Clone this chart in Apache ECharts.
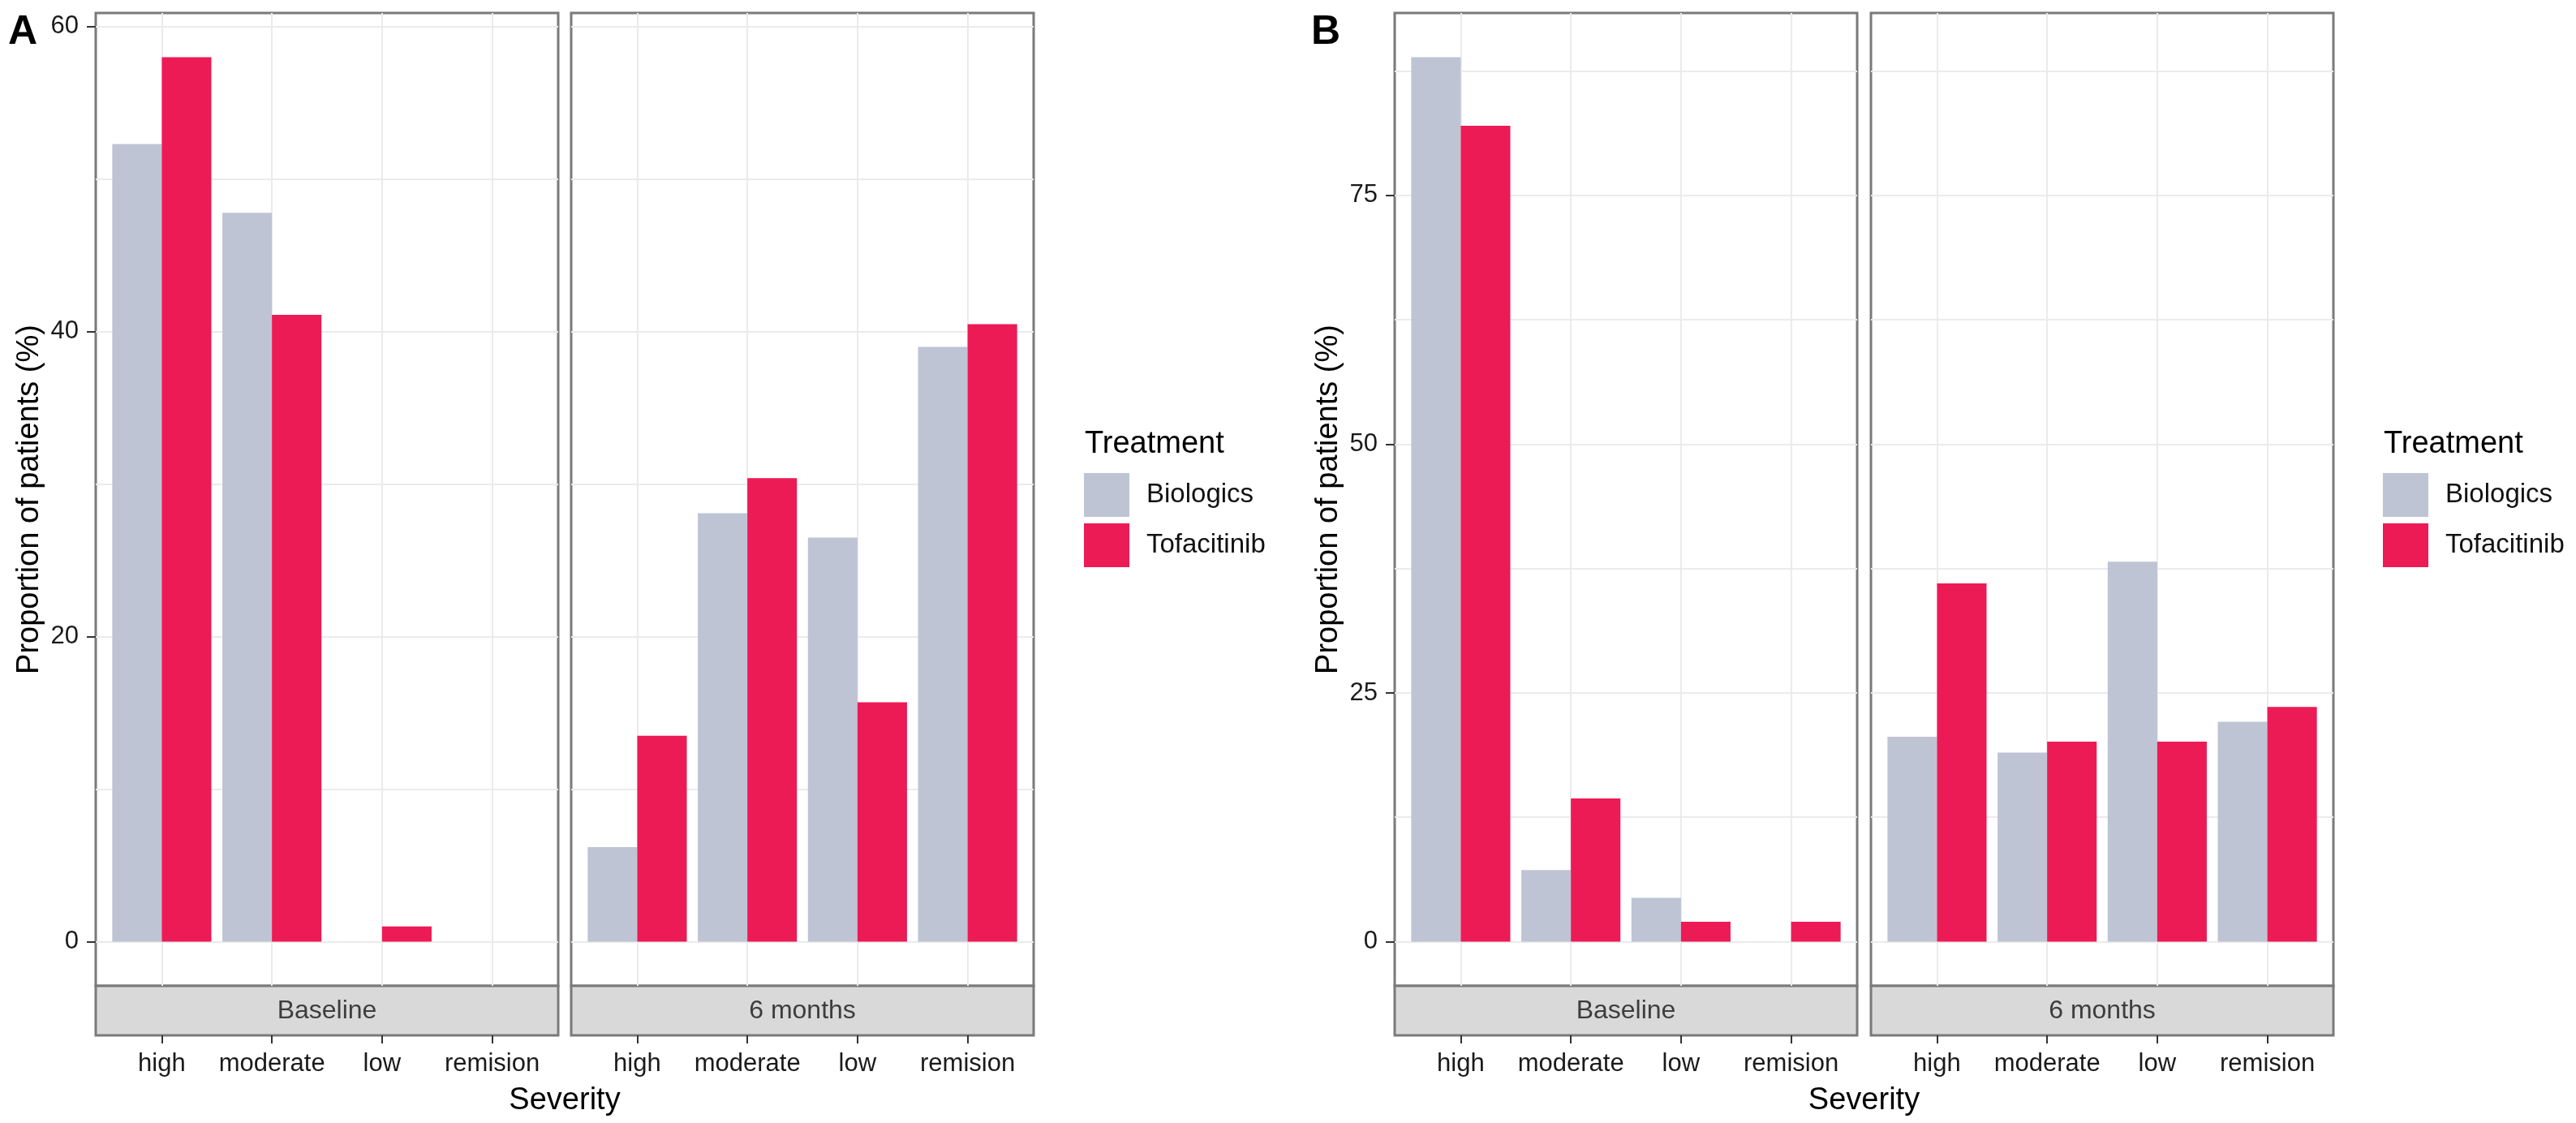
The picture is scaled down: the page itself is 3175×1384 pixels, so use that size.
<!DOCTYPE html>
<html><head><meta charset="utf-8">
<script src="https://cdn.jsdelivr.net/npm/echarts@6/dist/echarts.min.js"></script>
<style>html,body{margin:0;padding:0;background:#fff;}#c{width:3175px;height:1384px;}</style>
</head><body><div id="c"></div>
<script>
// ---------- data ----------
const severity = ['high', 'moderate', 'low', 'remision'];
const facets = ['Baseline', '6 months'];
const treatments = ['Biologics', 'Tofacitinib'];
const treatmentColors = ['#BEC4D4', '#EC1B55'];

// Panel A
const A_baseline_biologics   = [52.3, 47.8, 0, 0];
const A_baseline_tofacitinib = [58.0, 41.1, 1.0, 0];
const A_6m_biologics         = [6.2, 28.1, 26.5, 39.0];
const A_6m_tofacitinib       = [13.5, 30.4, 15.7, 40.5];
const A_yTicks = [0, 20, 40, 60];
const A_yMinor = [10, 30, 50];

// Panel B
const B_baseline_biologics   = [88.9, 7.2, 4.4, 0];
const B_baseline_tofacitinib = [82.0, 14.4, 2.0, 2.0];
const B_6m_biologics         = [20.6, 19.0, 38.2, 22.1];
const B_6m_tofacitinib       = [36.0, 20.1, 20.1, 23.6];
const B_yTicks = [0, 25, 50, 75];
const B_yMinor = [12.5, 37.5, 62.5, 87.5];

// ---------- layout ----------
const FONT = '"Liberation Sans", Arial, sans-serif';
const PLOT_TOP = 16, PLOT_H = 1199, STRIP_H = 61, FACET_W = 570;
const panels = [
  { label: 'A', labelX: 10, facetLeft: [118, 704], legendX: 1336, yTitleX: 37,
    values: [[A_baseline_biologics, A_baseline_tofacitinib], [A_6m_biologics, A_6m_tofacitinib]],
    yTicks: A_yTicks, yMinor: A_yMinor },
  { label: 'B', labelX: 1616, facetLeft: [1719, 2306], legendX: 2937, yTitleX: 1638,
    values: [[B_baseline_biologics, B_baseline_tofacitinib], [B_6m_biologics, B_6m_tofacitinib]],
    yTicks: B_yTicks, yMinor: B_yMinor }
];

const grids = [], xAxes = [], yAxes = [], series = [], graphics = [], legends = [];
const catIdx = severity.map((_, i) => i);

panels.forEach(p => {
  const all = [].concat(...p.values.map(f => [].concat(...f)));
  const dmax = Math.max(...all);
  const ymin = -0.05 * dmax, ymax = 1.05 * dmax;
  const step = FACET_W / (severity.length - 1 + 1.2);

  p.facetLeft.forEach((fl, fi) => {
    // frame grid (panel border, gridlines, y axis)
    const frameG = grids.length;
    grids.push({ left: fl, top: PLOT_TOP, width: FACET_W, height: PLOT_H, show: true,
      backgroundColor: '#ffffff', borderColor: '#7a7a7a', borderWidth: 3, outerBoundsMode: 'none', containLabel: false });
    // data grid (bars)
    const dataG = grids.length;
    grids.push({ left: fl + 0.1 * step, top: PLOT_TOP, width: FACET_W - 0.2 * step, height: PLOT_H,
      outerBoundsMode: 'none', containLabel: false });
    // strip grid
    grids.push({ left: fl, top: PLOT_TOP + PLOT_H, width: FACET_W, height: STRIP_H, show: true,
      backgroundColor: '#d9d9d9', borderColor: '#7a7a7a', borderWidth: 3, outerBoundsMode: 'none', containLabel: false });

    // frame x axis: vertical gridlines at category centers
    xAxes.push({ type: 'value', gridIndex: frameG, position: 'bottom', min: -0.6, max: severity.length - 1 + 0.6,
      axisLine: { show: false, onZero: false }, axisLabel: { show: false },
      axisTick: { show: false, customValues: catIdx },
      splitLine: { show: true, lineStyle: { color: '#ebebeb', width: 2 } } });
    // frame major y axis
    yAxes.push({ type: 'value', gridIndex: frameG, position: 'left', min: ymin, max: ymax,
      axisLine: { show: false, onZero: false },
      axisTick: { show: fi === 0, customValues: p.yTicks, length: 11, lineStyle: { color: '#333', width: 2 } },
      axisLabel: { show: fi === 0, customValues: p.yTicks, fontSize: 31, color: '#1a1a1a', margin: 21, fontFamily: FONT },
      splitLine: { show: true, lineStyle: { color: '#ebebeb', width: 2 } } });
    // frame minor y axis
    yAxes.push({ type: 'value', gridIndex: frameG, position: 'right', min: ymin, max: ymax,
      axisLine: { show: false, onZero: false }, axisLabel: { show: false },
      axisTick: { show: false, customValues: p.yMinor },
      splitLine: { show: true, lineStyle: { color: '#ebebeb', width: 2 } } });

    // data axes
    xAxes.push({ type: 'category', gridIndex: dataG, data: severity, position: 'bottom', offset: STRIP_H,
      axisLine: { show: false, onZero: false },
      axisTick: { show: true, alignWithLabel: true, length: 10, lineStyle: { color: '#333', width: 2 } },
      axisLabel: { interval: 0, fontSize: 31, color: '#1a1a1a', margin: 20, fontFamily: FONT },
      splitLine: { show: false } });
    const dataX = xAxes.length - 1;
    yAxes.push({ type: 'value', gridIndex: dataG, min: ymin, max: ymax, show: false,
      axisLine: { onZero: false }, splitLine: { show: false } });
    const dataY = yAxes.length - 1;

    treatments.forEach((t, ti) => {
      series.push({ type: 'bar', name: t, xAxisIndex: dataX, yAxisIndex: dataY,
        data: p.values[fi][ti], barGap: '0%', barCategoryGap: '10%',
        itemStyle: { color: treatmentColors[ti], borderWidth: 0 },
        emphasis: { disabled: true }, z: 3 });
    });

    // strip label
    graphics.push({ type: 'text', x: fl + FACET_W / 2, y: PLOT_TOP + PLOT_H + STRIP_H / 2 + 1,
      style: { text: facets[fi], fontSize: 32, fontFamily: FONT, fill: '#3d3d3d', align: 'center', verticalAlign: 'middle' } });
  });

  const left = p.facetLeft[0], right = p.facetLeft[1] + FACET_W;
  // x title
  graphics.push({ type: 'text', x: (left + right) / 2, y: 1357,
    style: { text: 'Severity', fontSize: 38, fontFamily: FONT, fill: '#000', align: 'center', verticalAlign: 'middle' } });
  // y title
  graphics.push({ type: 'text', x: p.yTitleX, y: PLOT_TOP + PLOT_H / 2, rotation: Math.PI / 2,
    style: { text: 'Proportion of patients (%)', fontSize: 38, fontFamily: FONT, fill: '#000', align: 'center', verticalAlign: 'middle' } });
  // panel letter
  graphics.push({ type: 'text', x: p.labelX, y: 40,
    style: { text: p.label, fontSize: 50, fontWeight: 'bold', fontFamily: FONT, fill: '#000', align: 'left', verticalAlign: 'middle' } });
  // legend title
  graphics.push({ type: 'text', x: p.legendX + 1, y: 548,
    style: { text: 'Treatment', fontSize: 38, fontFamily: FONT, fill: '#000', align: 'left', verticalAlign: 'middle' } });
  legends.push({ left: p.legendX, top: 583, orient: 'vertical', itemWidth: 56, itemHeight: 54, itemGap: 8,
    padding: 0, icon: 'rect', data: treatments, selectedMode: false,
    itemStyle: { borderWidth: 0 },
    textStyle: { fontSize: 33, color: '#111', fontFamily: FONT, padding: [0, 0, 0, 16] } });
});

const chart = echarts.init(document.getElementById('c'), null, { renderer: 'canvas' });
chart.setOption({
  animation: false,
  backgroundColor: '#ffffff',
  textStyle: { fontFamily: FONT },
  grid: grids, xAxis: xAxes, yAxis: yAxes, series: series,
  legend: legends, graphic: { elements: graphics },
  tooltip: { show: false }
});
</script></body></html>
